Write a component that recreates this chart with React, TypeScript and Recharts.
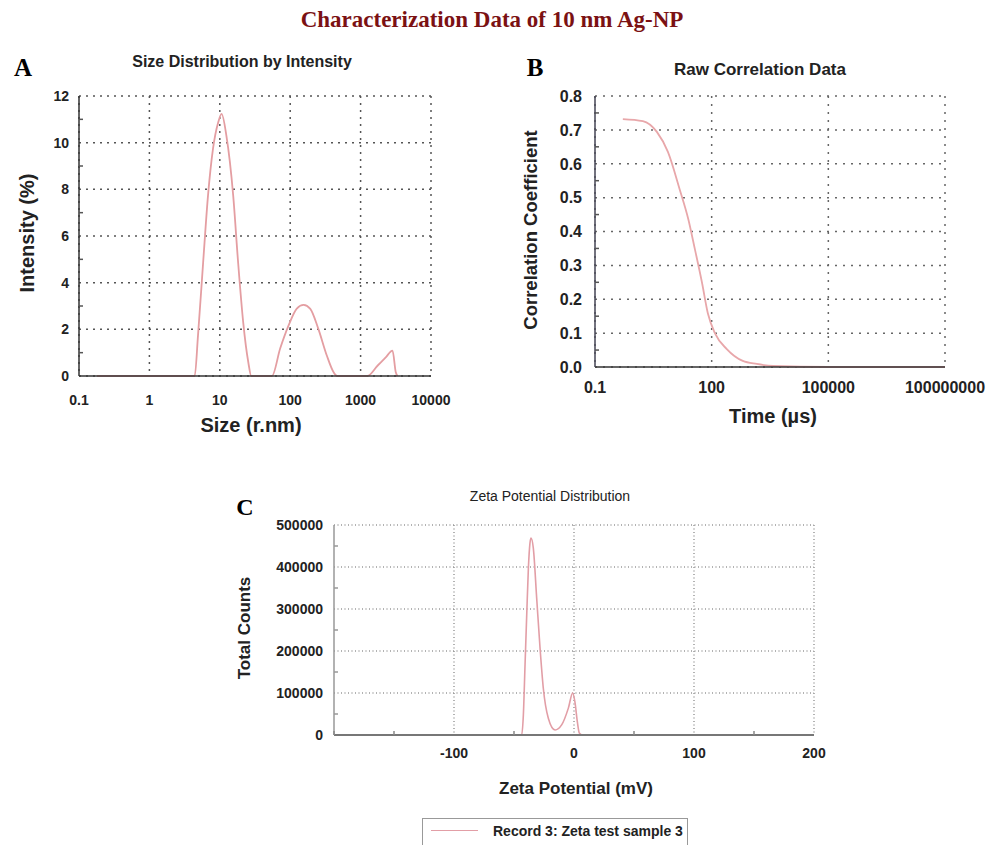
import { CartesianGrid, Line, LineChart, XAxis, YAxis } from "recharts";

// A: size distribution by intensity
const sizeNm = [0.18, 4.4, 4.9, 5.8, 6.8, 8.0, 9.5, 10.6, 12.4, 15.5, 18.2, 21.5, 25.4, 28, 55, 72, 94.6, 124, 155, 193, 251, 331, 414, 464, 1245, 1750, 2275, 2840, 3160, 3330];
const intensityPct = [0, 0, 1.73, 4.87, 7.73, 9.73, 10.87, 11.23, 10.3, 7.73, 4.87, 2.3, 0.59, 0, 0, 1.18, 2.16, 2.89, 3.05, 2.88, 2.02, 0.88, 0.16, 0, 0, 0.45, 0.8, 1.09, 0.16, 0];
const sizeTicks = [0.1, 1, 10, 100, 1000, 10000];
const intensityTicks = [0, 1, 2, 3, 4, 5, 6, 7, 8, 9, 10, 11, 12];
const intensityLabels = [0, 2, 4, 6, 8, 10, 12];

// B: raw correlation data
const timeUs = [0.52, 1.7, 3.9, 7.5, 15, 25, 37, 56, 80, 122, 245, 630, 1450, 3800, 100000, 100000000];
const corrCoef = [0.732, 0.726, 0.694, 0.635, 0.525, 0.437, 0.348, 0.251, 0.158, 0.099, 0.053, 0.018, 0.009, 0.003, 0, 0];
const timeTicks = [0.1, 100, 100000, 100000000];
const corrTicks = [0, 0.05, 0.1, 0.15, 0.2, 0.25, 0.3, 0.35, 0.4, 0.45, 0.5, 0.55, 0.6, 0.65, 0.7, 0.75, 0.8];
const corrLabels = [0, 0.1, 0.2, 0.3, 0.4, 0.5, 0.6, 0.7, 0.8];

// C: zeta potential distribution
const zetaMv = [-48, -43.6, -42.2, -40.8, -39.4, -38, -36.7, -35.8, -33.9, -31.1, -28.3, -25.6, -21.4, -15.8, -10.3, -4.7, -1.1, 0.8, 2.8, 4.4, 7, 10];
const totalCounts = [0, 0, 47600, 167000, 286000, 398000, 457000, 469000, 445000, 326000, 207000, 112000, 40000, 12000, 24000, 64000, 100000, 78000, 31000, 5000, 0, 0];
const zetaTicks = [-200, -150, -100, -50, 0, 50, 100, 150, 200];
const zetaLabels = [-100, 0, 100, 200];
const countTicks = [0, 50000, 100000, 150000, 200000, 250000, 300000, 350000, 400000, 450000, 500000];
const countLabels = [0, 100000, 200000, 300000, 400000, 500000];
const legendName = "Record 3: Zeta test sample 3";

const sizeData = sizeNm.map((x, i) => ({ x, y: intensityPct[i] }));
const corrData = timeUs.map((x, i) => ({ x, y: corrCoef[i] }));
const zetaData = zetaMv.map((x, i) => ({ x, y: totalCounts[i] }));

const FONT = "'Liberation Sans', Arial, sans-serif";

const has = (list: number[], v: number) => list.some((t) => Math.abs(t - v) < 1e-6 * Math.max(1, Math.abs(t)));

function leftTick(labels: number[], fmt: (v: number) => string, gap: number, size: number, minor: string) {
  return (p: any) => {
    const v = p.payload.value;
    if (has(labels, v))
      return (
        <text x={p.x} y={p.y} dy="0.36em" textAnchor="end" fontSize={size} fontWeight="bold" fontFamily={FONT} fill="#222">
          {fmt(v)}
        </text>
      );
    const ax = p.x + gap;
    return <line x1={ax} x2={ax + 4} y1={p.y} y2={p.y} stroke={minor} strokeWidth={1.5} />;
  };
}

function bottomTick(labels: number[], gap: number, size: number, minor: string) {
  return (p: any) => {
    const v = p.payload.value;
    if (has(labels, v))
      return (
        <text x={p.x} y={p.y} dy="0.71em" textAnchor="middle" fontSize={size} fontWeight="bold" fontFamily={FONT} fill="#222">
          {String(v)}
        </text>
      );
    const ay = p.y - gap;
    return <line x1={p.x} x2={p.x} y1={ay} y2={ay - 4} stroke={minor} strokeWidth={1.5} />;
  };
}

function Txt({ x, y, size, bold = true, rotate = false, color = "#222", family = FONT, children }: any) {
  return (
    <div
      style={{
        position: "absolute",
        left: x,
        top: y,
        transform: `translate(-50%, -50%)${rotate ? " rotate(-90deg)" : ""}`,
        fontSize: size,
        fontWeight: bold ? "bold" : "normal",
        fontFamily: family,
        color,
        whiteSpace: "nowrap",
        lineHeight: 1,
      }}
    >
      {children}
    </div>
  );
}

export default function App() {
  return (
    <div style={{ position: "absolute", left: 0, top: 0, width: 1001, height: 845, background: "#fff", overflow: "hidden" }}>
      <Txt x={492} y={19} size={23} family="'Liberation Serif', 'Times New Roman', serif" color="#7b1113">
        Characterization Data of 10 nm Ag-NP
      </Txt>

      {/* A */}
      <Txt x={23} y={67} size={25} family="'Liberation Serif', serif" color="#000">A</Txt>
      <Txt x={242} y={62} size={16}>Size Distribution by Intensity</Txt>
      <Txt x={27} y={233} size={20} rotate>Intensity (%)</Txt>
      <Txt x={251} y={425} size={20}>Size (r.nm)</Txt>
      <div style={{ position: "absolute", left: 0, top: 40 }}>
        <LineChart width={460} height={380} data={sizeData} margin={{ top: 56, right: 29, bottom: 14, left: 39 }}>
          <CartesianGrid horizontalValues={intensityLabels} verticalValues={sizeTicks} stroke="#555" strokeWidth={1.5} strokeDasharray="2 5" />
          <XAxis dataKey="x" type="number" scale="log" domain={[0.1, 10000]} ticks={sizeTicks} interval={0} allowDataOverflow height={30}
            tickLine={false} tickSize={0} tickMargin={19} axisLine={{ stroke: "#333", strokeWidth: 1.5 }} tick={bottomTick(sizeTicks, 19, 14, "#555")} />
          <YAxis type="number" domain={[0, 12]} ticks={intensityTicks} interval={0} width={40}
            tickLine={false} tickSize={0} tickMargin={10} axisLine={{ stroke: "#333", strokeWidth: 1.5 }} tick={leftTick(intensityLabels, (v) => String(v), 10, 14, "#555")} />
          <Line type="monotone" dataKey="y" stroke="#e49ea2" strokeWidth={1.8} dot={false} isAnimationActive={false} />
        </LineChart>
      </div>

      {/* B */}
      <Txt x={535} y={67} size={25} family="'Liberation Serif', serif" color="#000">B</Txt>
      <Txt x={760} y={69} size={17}>Raw Correlation Data</Txt>
      <Txt x={531} y={230} size={18.5} rotate>Correlation Coefficient</Txt>
      <Txt x={773} y={416} size={20}>Time (µs)</Txt>
      <div style={{ position: "absolute", left: 490, top: 40 }}>
        <LineChart width={500} height={380} data={corrData} margin={{ top: 56, right: 45, bottom: 23, left: 55 }}>
          <CartesianGrid horizontalValues={corrLabels} verticalValues={timeTicks} stroke="#666" strokeWidth={1.5} strokeDasharray="2 6" />
          <XAxis dataKey="x" type="number" scale="log" domain={[0.1, 100000000]} ticks={timeTicks} interval={0} allowDataOverflow height={30}
            tickLine={false} tickSize={0} tickMargin={15} axisLine={{ stroke: "#333", strokeWidth: 1.5 }} tick={bottomTick(timeTicks, 15, 16, "#555")} />
          <YAxis type="number" domain={[0, 0.8]} ticks={corrTicks} interval={0} width={50}
            tickLine={false} tickSize={0} tickMargin={13} axisLine={{ stroke: "#445", strokeWidth: 1.5 }} tick={leftTick(corrLabels, (v) => v.toFixed(1), 13, 16, "#555")} />
          <Line type="monotone" dataKey="y" stroke="#e8a7aa" strokeWidth={1.8} dot={false} isAnimationActive={false} />
        </LineChart>
      </div>

      {/* C */}
      <Txt x={245} y={507} size={24} family="'Liberation Serif', serif" color="#000">C</Txt>
      <Txt x={550} y={496} size={14} bold={false}>Zeta Potential Distribution</Txt>
      <Txt x={244} y={628} size={17} rotate>Total Counts</Txt>
      <Txt x={576} y={788} size={17}>Zeta Potential (mV)</Txt>
      <div style={{ position: "absolute", left: 220, top: 480 }}>
        <LineChart width={620} height={300} data={zetaData} margin={{ top: 45, right: 26, bottom: 15, left: 54 }}>
          <CartesianGrid horizontalValues={countLabels} verticalValues={zetaLabels} stroke="#999" strokeWidth={1.5} strokeDasharray="1 2.5" />
          <XAxis dataKey="x" type="number" domain={[-200, 200]} ticks={zetaTicks} interval={0} allowDataOverflow height={30}
            tickLine={false} tickSize={0} tickMargin={13} axisLine={{ stroke: "#777", strokeWidth: 2 }} tick={bottomTick(zetaLabels, 13, 14, "#888")} />
          <YAxis type="number" domain={[0, 500000]} ticks={countTicks} interval={0} width={60}
            tickLine={false} tickSize={0} tickMargin={11} axisLine={{ stroke: "#999", strokeWidth: 1.5 }} tick={leftTick(countLabels, (v) => String(v), 11, 14, "#999")} />
          <Line type="monotone" dataKey="y" stroke="#e29ea6" strokeWidth={1.6} dot={false} isAnimationActive={false} />
        </LineChart>
      </div>

      {/* legend */}
      <div style={{ position: "absolute", left: 422, top: 818, width: 266, height: 30, border: "1.5px solid #999", boxSizing: "border-box", background: "#fff" }}>
        <div style={{ position: "absolute", left: 8, top: 11, width: 47, height: 0, borderTop: "1.5px solid #e29ea6" }} />
        <div style={{ position: "absolute", left: 70, top: 4, fontFamily: FONT, fontWeight: "bold", fontSize: 14, color: "#222", whiteSpace: "nowrap" }}>
          {legendName}
        </div>
      </div>
    </div>
  );
}
